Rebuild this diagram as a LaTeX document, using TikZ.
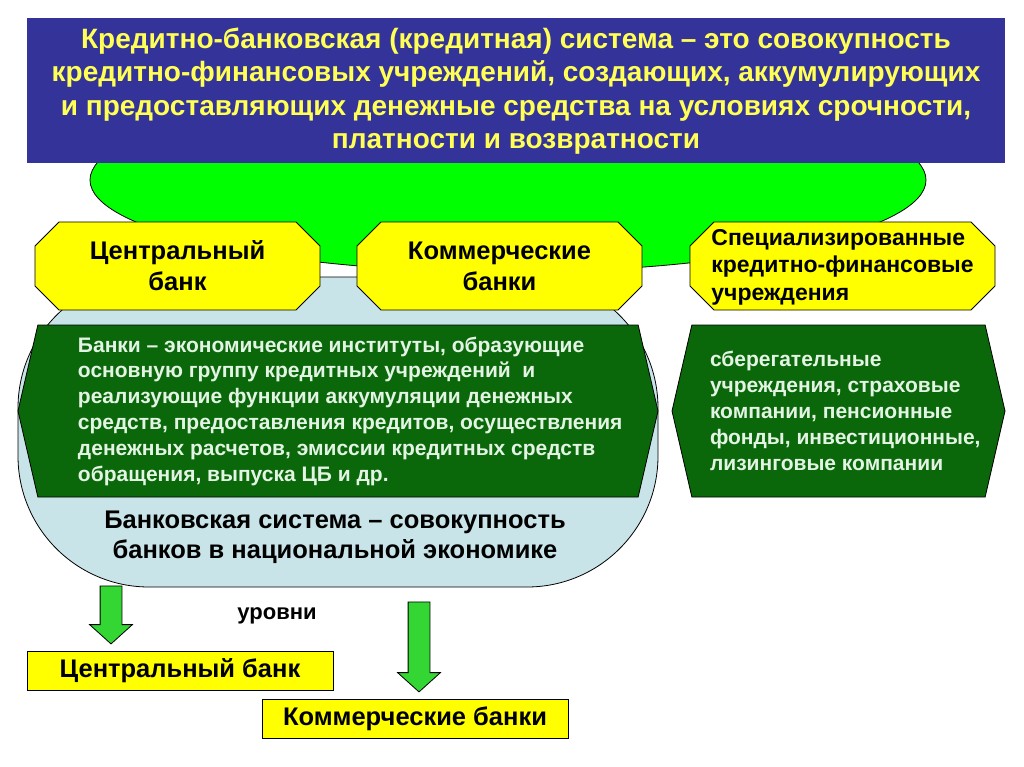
\documentclass[tikz,border=0pt]{standalone}
\usepackage{fontspec}
\setmainfont{Liberation Sans}
\usetikzlibrary{shapes.geometric,shapes.symbols,shapes.arrows}
\definecolor{titleBlue}{RGB}{51,51,153}
\definecolor{titleYellow}{RGB}{255,255,85}
\definecolor{ovalGreen}{RGB}{0,255,0}
\definecolor{paleBlue}{RGB}{200,228,232}
\definecolor{boxYellow}{RGB}{255,255,0}
\definecolor{darkGreen}{RGB}{10,104,10}
\definecolor{paleText}{RGB}{228,244,228}
\definecolor{arrowGreen}{RGB}{51,214,51}

\begin{document}
\begin{tikzpicture}[x=1pt,y=-1pt,
  every node/.style={line width=0.8pt},
  octline/.style={draw,line width=0.8pt,fill=boxYellow},
  octtext/.style={align=center,font=\bfseries\fontsize{25.5}{31}\selectfont},
  hexbox/.style={signal,signal to=west and east,signal pointer angle=154,draw,fill=darkGreen,minimum height=172pt,inner sep=0pt},
  hextext/.style={anchor=west,align=left,text=paleText,inner sep=0pt,font=\bfseries\fontsize{21}{25.8}\selectfont},
  flatbox/.style={rectangle,draw,fill=boxYellow,minimum width=306pt,minimum height=39pt,inner sep=0pt,font=\bfseries\fontsize{25.5}{28}\selectfont},
  downarrow/.style={single arrow,rotate=-90,draw,fill=arrowGreen,inner sep=10.5pt,minimum width=42pt,single arrow head extend=10.5pt,single arrow tip angle=96}]
\useasboundingbox (0,0) rectangle (1024,767);
% Background shapes
\node[ellipse,draw,fill=ovalGreen,minimum width=836pt,minimum height=184pt] (greenOval) at (508,180) {};
\node[rectangle,fill=titleBlue,minimum width=978pt,minimum height=145pt,align=center,text=titleYellow,font=\bfseries\fontsize{28}{33.5}\selectfont] (title) at (516,91)
  {Кредитно-банковская (кредитная) система – это совокупность\\
   кредитно-финансовых учреждений, создающих, аккумулирующих\\
   и предоставляющих денежные средства на условиях срочности,\\
   платности и возвратности};
\node[rectangle,rounded corners=131pt,draw,fill=paleBlue,minimum width=640pt,minimum height=310pt] (bankOval) at (338,432) {};
% Yellow octagons
\foreach \xa/\xb in {35/320,357/642,690/995}
  \draw[octline] ({\xa+24},222) -- ({\xb-24},222) -- (\xb,246) -- (\xb,286) -- ({\xb-24},310)
    -- ({\xa+24},310) -- (\xa,286) -- (\xa,246) -- cycle;
\node[octtext] (centralBank) at (177.5,266) {Центральный\\банк};
\node[octtext] (commBanks) at (499.5,266) {Коммерческие\\банки};
\node[octtext,align=left,font=\bfseries\fontsize{23}{27.5}\selectfont] (specInst) at (842.5,267)
  {Специализированные\\кредитно-финансовые\\учреждения};
% Green hexagons
\node[hexbox,minimum width=640pt] (banksHex) at (338,411) {};
\node[hextext] (banksText) at ([xshift=60pt]banksHex.west)
  {Банки – экономические институты, образующие\\
   основную группу кредитных учреждений~ и\\
   реализующие функции аккумуляции денежных\\
   средств, предоставления кредитов, осуществления\\
   денежных расчетов, эмиссии кредитных средств\\
   обращения, выпуска ЦБ и др.};
\node[hexbox,minimum width=333pt] (specHex) at (838.5,411) {};
\node[hextext,font=\bfseries\fontsize{21}{26}\selectfont] (specText) at ([xshift=38pt]specHex.west)
  {сберегательные\\
   учреждения, страховые\\
   компании, пенсионные\\
   фонды, инвестиционные,\\
   лизинговые компании};
% Banking system definition
\node[align=center,font=\bfseries\fontsize{25.5}{30}\selectfont] (sysText) at (335,537)
  {Банковская система – совокупность\\банков в национальной экономике};
% Levels
\node[downarrow,minimum height=58pt] (arrowCB) at (111,610) {};
\node[downarrow,minimum height=90pt] (arrowKB) at (419,642) {};
\node[font=\bfseries\fontsize{22}{24}\selectfont] (levels) at (277,616) {уровни};
\node[flatbox] (centralLevel) at (180,670.5) {Центральный банк};
\node[flatbox] (commLevel) at (415,718.5) {Коммерческие банки};
\end{tikzpicture}
\end{document}
